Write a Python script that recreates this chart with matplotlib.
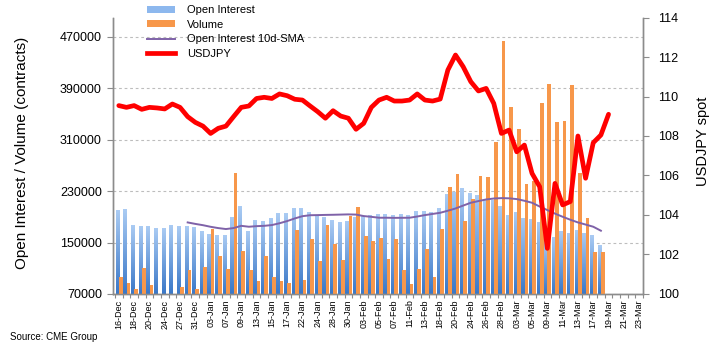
import numpy as np
import matplotlib
matplotlib.use("Agg")
import matplotlib.pyplot as plt
from matplotlib.colors import LinearSegmentedColormap
from matplotlib.patches import Patch
from matplotlib.lines import Line2D

plt.rcParams["font.family"] = ["Liberation Sans", "DejaVu Sans"]

# ---------------------------------------------------------------
# Data
# ---------------------------------------------------------------
dates = [
    "16-Dec", "17-Dec", "18-Dec", "19-Dec", "20-Dec", "23-Dec", "24-Dec", "26-Dec",
    "27-Dec", "30-Dec", "31-Dec", "02-Jan", "03-Jan", "06-Jan", "07-Jan", "08-Jan",
    "09-Jan", "10-Jan", "13-Jan", "14-Jan", "15-Jan", "16-Jan", "17-Jan", "21-Jan",
    "22-Jan", "23-Jan", "24-Jan", "27-Jan", "28-Jan", "29-Jan", "30-Jan", "31-Jan",
    "03-Feb", "04-Feb", "05-Feb", "06-Feb", "07-Feb", "10-Feb", "11-Feb", "12-Feb",
    "13-Feb", "14-Feb", "18-Feb", "19-Feb", "20-Feb", "21-Feb", "24-Feb", "25-Feb",
    "26-Feb", "27-Feb", "28-Feb", "02-Mar", "03-Mar", "04-Mar", "05-Mar", "06-Mar",
    "09-Mar", "10-Mar", "11-Mar", "12-Mar", "13-Mar", "16-Mar", "17-Mar", "18-Mar",
    "19-Mar", "20-Mar", "21-Mar", "22-Mar", "23-Mar",
]

# thousands of contracts
open_interest = [
    200.5, 202.0, 177.2, 175.6, 175.6, 172.5, 172.5, 177.2, 175.6, 175.6,
    174.1, 167.9, 163.2, 161.6, 161.6, 189.6, 206.7, 167.9, 185.0, 183.4,
    188.1, 195.8, 195.8, 203.6, 203.6, 197.4, 192.7, 189.6, 185.0, 181.8,
    183.4, 189.6, 191.2, 192.7, 194.3, 194.3, 192.7, 194.3, 192.7, 198.9,
    198.9, 197.4, 203.6, 225.3, 228.4, 234.7, 226.9, 223.8, 216.0, 216.0,
    206.7, 192.7, 196.9, 188.1, 186.5, 181.8, 153.9, 158.5, 167.9, 164.8,
    169.4, 164.8, 161.6, 146.1,
]

volume = [
    96.4, 87.1, 77.8, 110.4, 84.0, 60.0, 55.0, 62.0, 80.9, 107.3,
    77.8, 111.9, 171.0, 129.0, 108.8, 258.0, 136.8, 107.3, 90.2, 129.0,
    96.4, 90.2, 87.1, 169.4, 91.7, 155.4, 121.3, 177.2, 147.7, 122.8,
    191.2, 205.1, 160.1, 152.3, 157.0, 124.4, 155.4, 107.3, 85.5, 108.8,
    139.9, 96.4, 171.0, 236.2, 256.4, 183.4, 217.6, 253.3, 251.7, 306.1,
    463.0, 360.5, 326.3, 240.9, 245.5, 366.7, 396.2, 337.2, 338.7, 394.7,
    258.0, 188.1, 135.2, 135.2,
]

# 10-day SMA of open interest, starts on the 10th session
oi_sma = [
    181.3, 179.0, 177.0, 174.5, 172.5, 171.0, 172.5, 176.0, 174.6, 175.5,
    176.0, 177.2, 180.0, 183.4, 187.5, 191.0, 192.5, 192.7, 193.0, 193.2,
    193.5, 193.8, 193.5, 191.2, 190.0, 188.6, 188.6, 188.4, 188.5, 188.6,
    190.5, 192.7, 194.5, 196.3, 199.5, 203.0, 207.5, 211.9, 214.5, 217.0,
    218.5, 219.1, 218.8, 217.6, 215.0, 211.9, 206.0, 200.5, 195.0, 190.1,
    185.5, 181.3, 178.0, 174.6, 168.4,
]
SMA_START = 9

usdjpy = [
    109.54, 109.45, 109.54, 109.35, 109.45, 109.42, 109.37, 109.62, 109.45, 108.98,
    108.69, 108.50, 108.13, 108.39, 108.50, 108.98, 109.45, 109.52, 109.90, 109.96,
    109.90, 110.13, 110.04, 109.86, 109.82, 109.52, 109.23, 108.90, 109.28, 109.01,
    108.90, 108.34, 108.64, 109.45, 109.82, 109.96, 109.77, 109.77, 109.82, 110.13,
    109.82, 109.77, 109.87, 111.34, 112.10, 111.51, 110.75, 110.28, 110.41, 109.65,
    108.13, 108.30, 107.20, 107.54, 106.11, 105.43, 102.31, 105.60, 104.51, 104.68,
    108.00, 105.86, 107.66, 108.05, 109.10,
]

BLUE_DARK = "#3A78C8"
BLUE_LIGHT = "#AACBF3"
ORANGE = "#F7974A"
PURPLE = "#7F62A8"
RED = "#FF0000"
AXIS_GREY = "#8C8C8C"

Y_MIN, Y_MAX = 70000, 500000

# ---------------------------------------------------------------
# Figure
# ---------------------------------------------------------------
fig = plt.figure(figsize=(7.21, 3.48), dpi=100)
ax = fig.add_axes([0.1567, 0.1552, 0.7351, 0.7945])
ax2 = ax.twinx()

oi = np.array(open_interest) * 1000
vol = np.array(volume) * 1000
x = np.arange(len(oi))

# gradient-filled open interest bars
cmap = LinearSegmentedColormap.from_list("oi", [BLUE_DARK, BLUE_LIGHT])
grad = np.linspace(0, 1, 64).reshape(-1, 1)
for xi, h in zip(x, oi):
    ax.imshow(grad, cmap=cmap, origin="lower", aspect="auto",
              extent=[xi - 0.41, xi + 0.02, Y_MIN, h], zorder=2)

ax.bar(x + 0.26, vol, width=0.48, color=ORANGE, zorder=3)

# SMA is in contracts: map it onto the right-hand scale
sma_x = np.arange(SMA_START, SMA_START + len(oi_sma))
ax2.plot(sma_x, (np.array(oi_sma) * 1000 - Y_MIN) / (Y_MAX - Y_MIN) * 14 + 100,
         color=PURPLE, linewidth=1.4, zorder=4)
ax2.plot(np.arange(len(usdjpy)), usdjpy, color=RED, linewidth=3.4,
         solid_joinstyle="round", solid_capstyle="round", zorder=5)

ax.set_xlim(-0.76, len(dates) - 0.5)
ax.set_ylim(Y_MIN, Y_MAX)
ax2.set_ylim(100, 114)

# left axis
ax.set_yticks(np.arange(70000, 470001, 80000))
ax.set_yticklabels([str(v) for v in range(70000, 470001, 80000)], fontsize=9)
ax.yaxis.grid(True, linestyle=(0, (2.5, 2.5)), color="#BDBDBD", linewidth=0.8)
ax.set_axisbelow(True)

# right axis
ax2.set_yticks(np.arange(100, 115, 2))
ax2.tick_params(axis="y", labelsize=9, length=4, width=0.8, color=AXIS_GREY, pad=7)

# category axis
ax.set_xticks(np.arange(0, len(dates), 2))
ax.set_xticklabels(dates[::2], rotation=90, fontsize=6.5)
ax.set_xticks(np.arange(-0.5, len(dates), 1), minor=True)
ax.tick_params(axis="x", which="major", length=0, pad=4)
ax.tick_params(axis="x", which="minor", length=3, width=0.8, color=AXIS_GREY)
ax.tick_params(axis="y", length=4, width=0.8, color=AXIS_GREY, pad=4)

for a in (ax, ax2):
    a.spines["top"].set_visible(False)
    for s in ("left", "right", "bottom"):
        a.spines[s].set_color(AXIS_GREY)
        a.spines[s].set_linewidth(1.0)

fig.text(0.031, 0.562, "Open Interest / Volume (contracts)", rotation=90,
         ha="center", va="center", fontsize=11)
fig.text(0.975, 0.595, "USDJPY spot", rotation=90, ha="center", va="center",
         fontsize=10.5)
fig.text(0.014, 0.032, "Source: CME Group", fontsize=7, ha="left", va="center")

handles = [
    Patch(facecolor="#8DB8EE", edgecolor="none"),
    Patch(facecolor=ORANGE, edgecolor="none"),
    Line2D([], [], color=PURPLE, linewidth=1.4),
    Line2D([], [], color=RED, linewidth=3.4),
]
labels = ["Open Interest", "Volume", "Open Interest 10d-SMA", "USDJPY"]
fig.legend(handles, labels, loc="upper left", bbox_to_anchor=(147 / 721, 1 - 5 / 348),
           frameon=False, fontsize=8, handlelength=2.5, handleheight=0.6,
           handletextpad=1.1, labelspacing=0.42, borderpad=0, borderaxespad=0)

fig.savefig("out.png", dpi=100)
